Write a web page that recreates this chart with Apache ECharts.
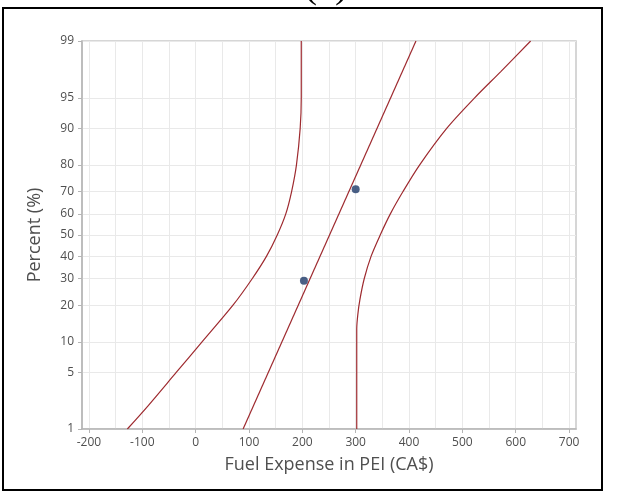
<!DOCTYPE html>
<html>
<head>
<meta charset="utf-8">
<script src="https://cdn.jsdelivr.net/npm/echarts@6/dist/echarts.min.js"></script>
<style>
html,body{margin:0;padding:0;background:#fff;}
#chart{width:618px;height:491px;}
</style>
</head>
<body>
<div id="chart"></div>
<script>
// ---- data ----
const xTicks = [-200, -100, 0, 100, 200, 300, 400, 500, 600, 700];
const xGridLines = [-200, -150, -100, -50, 0, 50, 100, 150, 200, 250, 300, 350, 400, 450, 500, 550, 600, 650, 700];
const yTicksPercent = [1, 5, 10, 20, 30, 40, 50, 60, 70, 80, 90, 95, 99];

const pointsX = [203, 300];
const pointsPercent = [29.2, 70.8];

const fitX = [89, 413];
const fitPercent = [1, 99];

const lowerBandX = [-128, -90, -36, 12, 70, 106, 133, 153, 169, 180, 189, 196, 198, 198];
const lowerBandPercent = [1, 2, 5, 10, 20, 30, 40, 50, 60, 70, 80, 90, 95, 99];

const upperBandX = [302, 302, 304, 308, 316, 329, 346, 365, 389, 420, 471, 523, 572, 628];
const upperBandPercent = [1, 13, 17, 22, 30, 40, 50, 60, 70, 80, 90, 95, 97.5, 99];

// ---- normal probability scale (percent -> z) ----
function probit(pct) {
  const p = pct / 100;
  const a = [-3.969683028665376e+01, 2.209460984245205e+02, -2.759285104469687e+02, 1.383577518672690e+02, -3.066479806614716e+01, 2.506628277459239e+00];
  const b = [-5.447609879822406e+01, 1.615858368580409e+02, -1.556989798598866e+02, 6.680131188771972e+01, -1.328068155288572e+01];
  const c = [-7.784894002430293e-03, -3.223964580411365e-01, -2.400758277161838e+00, -2.549732539343734e+00, 4.374664141464968e+00, 2.938163982698783e+00];
  const d = [7.784695709041462e-03, 3.224671290700398e-01, 2.445134137142996e+00, 3.754408661907416e+00];
  const plow = 0.02425, phigh = 1 - plow;
  let q, r;
  if (p < plow) {
    q = Math.sqrt(-2 * Math.log(p));
    return (((((c[0]*q+c[1])*q+c[2])*q+c[3])*q+c[4])*q+c[5]) / ((((d[0]*q+d[1])*q+d[2])*q+d[3])*q+1);
  } else if (p <= phigh) {
    q = p - 0.5; r = q * q;
    return (((((a[0]*r+a[1])*r+a[2])*r+a[3])*r+a[4])*r+a[5])*q / (((((b[0]*r+b[1])*r+b[2])*r+b[3])*r+b[4])*r+1);
  } else {
    q = Math.sqrt(-2 * Math.log(1 - p));
    return -(((((c[0]*q+c[1])*q+c[2])*q+c[3])*q+c[4])*q+c[5]) / ((((d[0]*q+d[1])*q+d[2])*q+d[3])*q+1);
  }
}
function pairs(xs, ps) { return xs.map((x, i) => [x, probit(ps[i])]); }

const yTickZ = yTicksPercent.map(probit);
const zMin = probit(1), zMax = probit(99);

const labelColor = '#4f4f4f';
const font = 'Open Sans';
const red = '#9e2a2f';

const chart = echarts.init(document.getElementById('chart'), null, {renderer: 'canvas'});
chart.setOption({
  animation: false,
  backgroundColor: '#ffffff',
  grid: {left: 82, right: 42, top: 41, bottom: 62, show: true, borderColor: '#c9c9c9', borderWidth: 1.5, backgroundColor: '#ffffff'},
  xAxis: [{
    type: 'value', min: -213, max: 713,
    name: 'Fuel Expense in PEI (CA$)', nameLocation: 'middle', nameGap: 27,
    nameTextStyle: {color: labelColor, fontSize: 18, fontFamily: font},
    axisLine: {show: true, onZero: false, lineStyle: {color: '#b5b5b5', width: 1.5}},
    axisTick: {show: true, length: 4, customValues: xTicks, lineStyle: {color: '#b5b5b5'}},
    axisLabel: {show: true, customValues: xTicks, color: labelColor, fontSize: 12, fontFamily: font, margin: 8},
    splitLine: {show: false}
  }, {
    type: 'value', min: -213, max: 713, position: 'bottom',
    axisLine: {show: false}, axisLabel: {show: false},
    axisTick: {show: false, customValues: xGridLines},
    splitLine: {show: true, lineStyle: {color: '#e9e9e9', width: 1}}
  }],
  yAxis: {
    type: 'value', min: zMin, max: zMax,
    name: 'Percent (%)', nameLocation: 'middle', nameGap: 38,
    nameTextStyle: {color: labelColor, fontSize: 18, fontFamily: font},
    axisLine: {show: true, onZero: false, lineStyle: {color: '#b5b5b5', width: 1.5}},
    axisTick: {show: true, length: 4, customValues: yTickZ, lineStyle: {color: '#b5b5b5'}},
    axisLabel: {
      show: true, customValues: yTickZ, color: labelColor, fontSize: 12, fontFamily: font, margin: 8,
      formatter: function (v) {
        let best = 0, bd = Infinity;
        yTickZ.forEach((z, i) => { const dd = Math.abs(z - v); if (dd < bd) { bd = dd; best = i; } });
        return String(yTicksPercent[best]);
      }
    },
    splitLine: {show: true, lineStyle: {color: '#e9e9e9', width: 1}}
  },
  series: [
    {type: 'line', data: pairs(lowerBandX, lowerBandPercent), showSymbol: false, symbol: 'none', smooth: 0.3, lineStyle: {color: red, width: 1.2}, z: 3},
    {type: 'line', data: pairs(upperBandX, upperBandPercent), showSymbol: false, symbol: 'none', smooth: 0.3, lineStyle: {color: red, width: 1.2}, z: 3},
    {type: 'line', data: pairs(fitX, fitPercent), showSymbol: false, symbol: 'none', lineStyle: {color: red, width: 1.2}, z: 3},
    {type: 'scatter', data: pairs(pointsX, pointsPercent), symbol: 'circle', symbolSize: 8, itemStyle: {color: '#1d3868'}, z: 5}
  ],
  graphic: [
    {type: 'rect', shape: {x: 3, y: 8, width: 599, height: 482}, style: {fill: 'none', stroke: '#000000', lineWidth: 2}, z: 100},
    {type: 'text', x: 326, y: -34, style: {text: '(a)', fontFamily: 'Liberation Serif', fontSize: 40, fill: '#000', align: 'center', verticalAlign: 'top'}, z: 100}
  ]
});
</script>
</body>
</html>
